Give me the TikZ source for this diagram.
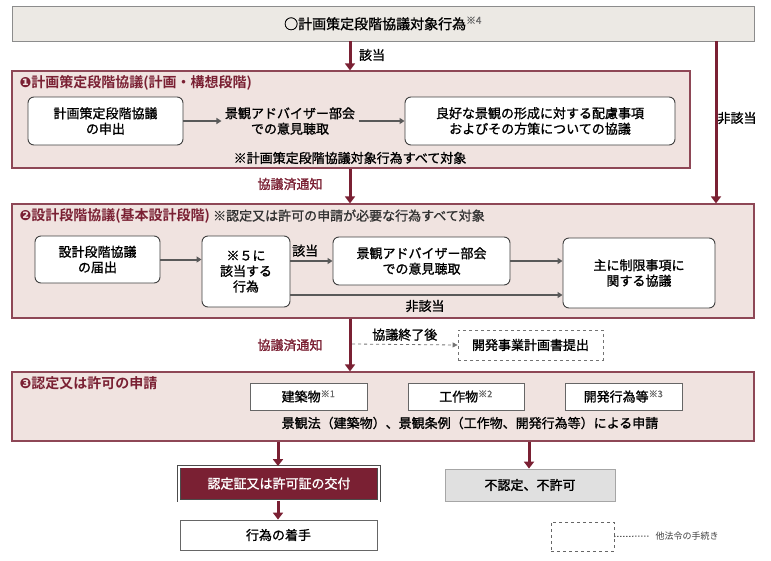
\documentclass[tikz,border=0pt]{standalone}
\usepackage{fontspec}
\setmainfont{Noto Sans CJK JP}[BoldFont={Noto Sans CJK JP Bold}]
\newfontfamily\djv{DejaVu Sans}
\newfontfamily\med{Noto Sans CJK JP}[FakeBold=1.2]
\usetikzlibrary{arrows.meta}
\definecolor{dred}{HTML}{7A2033}
\definecolor{secfill}{HTML}{F0E3E0}
\definecolor{secline}{HTML}{8E4756}
\definecolor{topfill}{HTML}{ECE9E4}
\begin{document}
\begin{tikzpicture}[x=1pt,y=-1pt,font=\med\fontsize{13}{15.5}\selectfont,
  sec/.style={draw=secline,fill=secfill,line width=1.2pt},
  rbox/.style={draw=black!75,fill=white,rounded corners=6pt,line width=0.9pt,align=center},
  sbox/.style={draw=black!60,fill=white,line width=0.8pt,align=center},
  big/.style={draw=dred,line width=3pt,-{Triangle[length=7pt,width=10pt]}},
  gar/.style={draw=black!65,line width=2pt,-{Triangle[length=5pt,width=6pt]}},
  dar/.style={draw=black!55,dashed,line width=0.8pt,-{Triangle[length=5pt,width=5pt]}},
  ttl/.style={anchor=west,text=dred,font=\bfseries\fontsize{14}{16}\selectfont}]
\useasboundingbox (0,0) rectangle (771,560);
% top
\node[draw=black!45,fill=topfill,minimum width=742pt,minimum height=35pt,line width=0.8pt,font=\med\fontsize{14}{16}\selectfont] (top) at (383,23.5) {○計画策定段階協議対象行為\textsuperscript{\color{black!60}※4}};
% section 1
\node[sec,minimum width=678pt,minimum height=97pt] (s1) at (351,119.5) {};
\node[ttl] (t1) at (16,83) {{\djv ❶}計画策定段階協議(計画・構想段階)};
\node[rbox,minimum width=155pt,minimum height=48pt] (a) at (105.5,121) {計画策定段階協議\\の申出};
\node[align=center] (b) at (290,121) {景観アドバイザー部会\\での意見聴取};
\node[rbox,minimum width=270pt,minimum height=48pt] (c) at (540,121) {良好な景観の形成に対する配慮事項\\およびその方策についての協議};
\node (n1) at (350,158) {※計画策定段階協議対象行為すべて対象};
\draw[gar] (a.east) -- (b.west);
\draw[gar] (b.east) -- (c.west);
% section 2
\node[sec,minimum width=742pt,minimum height=114pt] (s2) at (383,261) {};
\node[ttl] (t2) at (16,216) {{\djv ❷}設計段階協議(基本設計段階)\ \textcolor{black!80}{\mdseries\med\fontsize{13}{15}\selectfont ※認定又は許可の申請が必要な行為すべて対象}};
\node[rbox,minimum width=125pt,minimum height=47pt] (d) at (97.5,259.5) {設計段階協議\\の届出};
\node[rbox,minimum width=88pt,minimum height=71pt] (e) at (246,271.5) {※５に\\該当する\\行為};
\node[rbox,minimum width=177pt,minimum height=48pt] (f) at (421.5,261) {景観アドバイザー部会\\での意見聴取};
\node[rbox,minimum width=152pt,minimum height=70pt] (g) at (639,273) {主に制限事項に\\関する協議};
\draw[gar] (d.east) -- (e.west|-d.east);
\draw[gar] (e.east|-f.west) -- node[above,pos=0.35,black] (l1) {該当} (f.west);
\draw[gar] (f.east) -- (g.west|-f.east);
\draw[gar] (e.east|-0,295) -- (g.west|-0,295);
\node (l2) at (425,306) {非該当};
% top arrows
\draw[big] (top.south-|350,0) -- (s1.north-|350,0);
\node (l3) at (372,55) {該当};
\draw[big] (top.south-|716,0) -- (s2.north-|716,0);
\node (l4) at (737,118) {非該当};
\draw[big] (s1.south-|350,0) -- (s2.north-|350,0);
\node[text=dred] (l5) at (290,184) {協議済通知};
% section 3
\node[sec,minimum width=742pt,minimum height=69pt] (s3) at (383,406.5) {};
\draw[big] (s2.south-|350,0) -- (s3.north-|350,0);
\node[text=dred] (l6) at (290,345) {協議済通知};
\coordinate (ds) at (352,344);
\node[draw=black!55,dashed,minimum width=145pt,minimum height=30pt,line width=0.8pt] (h) at (530.5,345) {開発事業計画書提出};
\draw[dar] (ds) -- node[above,black] (l7) {協議終了後} (h.west);
\node[ttl] (t3) at (16,383) {{\djv ❸}認定又は許可の申請};
\node[sbox,minimum width=117pt,minimum height=27pt] (i1) at (308.5,396.5) {建築物\textsuperscript{\color{black!60}※1}};
\node[sbox,minimum width=116pt,minimum height=27pt] (i2) at (466,396.5) {工作物\textsuperscript{\color{black!60}※2}};
\node[sbox,minimum width=117pt,minimum height=27pt] (i3) at (623.5,396.5) {開発行為等\textsuperscript{\color{black!60}※3}};
\node (n3) at (470,423) {景観法（建築物）、景観条例（工作物、開発行為等）による申請};
% results
\node[draw=black!70,double=white,double distance=2pt,fill=dred,text=white,minimum width=200pt,minimum height=34pt,line width=0.8pt] (r1) at (279,483.5) {認定証又は許可証の交付};
\node[draw=black!35,fill=black!12,minimum width=170pt,minimum height=32pt,line width=0.8pt] (r2) at (530,485) {不認定、不許可};
\node[sbox,minimum width=197pt,minimum height=30pt] (r3) at (278.5,535) {行為の着手};
\draw[big] (s3.south-|278,0) -- (r1.north-|278,0);
\draw[big] (s3.south-|529,0) -- (r2.north-|529,0);
\draw[big] (r1.south-|278,0) -- (r3.north-|278,0);
% legend
\node[draw=black!60,dashed,minimum width=63pt,minimum height=29pt,line width=0.8pt] (lg) at (582.5,536.5) {};
\coordinate (lg2) at (650,536);
\draw[dotted,line width=1pt] (lg.east) -- (lg2);
\node[anchor=west,font=\fontsize{9}{11}\selectfont,text=black!75] (lt) at (652,536) {他法令の手続き};
\end{tikzpicture}
\end{document}
